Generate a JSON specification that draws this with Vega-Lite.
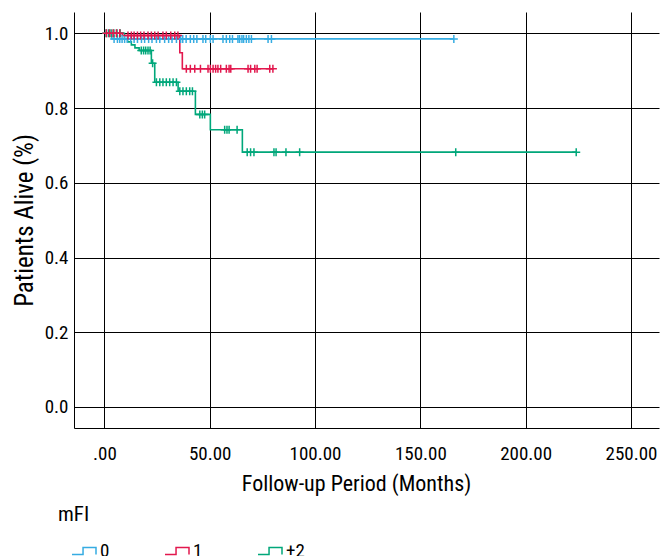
{
  "$schema": "https://vega.github.io/schema/vega-lite/v6.json",
  "width": 585,
  "height": 416,
  "autosize": {"type": "none"},
  "padding": {"left": 74, "top": 12, "right": 3, "bottom": 128},
  "background": "white",
  "config": {
    "font": "Roboto Condensed, DejaVu Sans Condensed, Roboto",
    "view": {"stroke": null},
    "axis": {
      "gridColor": "#000", "gridWidth": 1, "gridOpacity": 1,
      "domainColor": "#000", "domainWidth": 1,
      "ticks": false, "tickSize": 0,
      "labelFont": "Roboto Condensed, DejaVu Sans Condensed, Roboto", "labelFontSize": 19, "labelColor": "#000",
      "titleFont": "Roboto Condensed, DejaVu Sans Condensed, Roboto", "titleFontSize": 22, "titleFontWeight": "normal", "titleColor": "#000"
    },
    "legend": {
      "titleFont": "Roboto Condensed, DejaVu Sans Condensed, Roboto", "labelFont": "Roboto Condensed, DejaVu Sans Condensed, Roboto",
      "titleFontSize": 21, "titleFontWeight": "normal", "titleColor": "#000",
      "labelFontSize": 19, "labelColor": "#000"
    }
  },
  "data": {
    "values": [
      {"g": "0", "t": 0, "s": 1, "c": 0},
      {"g": "0", "t": 3.5, "s": 0.985, "c": 0},
      {"g": "0", "t": 4.6, "s": 0.985, "c": 1},
      {"g": "0", "t": 6.2, "s": 0.985, "c": 1},
      {"g": "0", "t": 7.3, "s": 0.985, "c": 1},
      {"g": "0", "t": 8.4, "s": 0.985, "c": 1},
      {"g": "0", "t": 9.6, "s": 0.985, "c": 1},
      {"g": "0", "t": 10.9, "s": 0.985, "c": 1},
      {"g": "0", "t": 12.5, "s": 0.985, "c": 1},
      {"g": "0", "t": 14.1, "s": 0.985, "c": 1},
      {"g": "0", "t": 15.7, "s": 0.985, "c": 1},
      {"g": "0", "t": 17.6, "s": 0.985, "c": 1},
      {"g": "0", "t": 19.1, "s": 0.985, "c": 1},
      {"g": "0", "t": 21.0, "s": 0.985, "c": 1},
      {"g": "0", "t": 22.6, "s": 0.985, "c": 1},
      {"g": "0", "t": 24.7, "s": 0.985, "c": 1},
      {"g": "0", "t": 26.3, "s": 0.985, "c": 1},
      {"g": "0", "t": 28.6, "s": 0.985, "c": 1},
      {"g": "0", "t": 30.5, "s": 0.985, "c": 1},
      {"g": "0", "t": 32.1, "s": 0.985, "c": 1},
      {"g": "0", "t": 34.2, "s": 0.985, "c": 1},
      {"g": "0", "t": 36.2, "s": 0.985, "c": 1},
      {"g": "0", "t": 37.2, "s": 0.985, "c": 1},
      {"g": "0", "t": 38.8, "s": 0.985, "c": 1},
      {"g": "0", "t": 40.8, "s": 0.985, "c": 1},
      {"g": "0", "t": 42.4, "s": 0.985, "c": 1},
      {"g": "0", "t": 43.9, "s": 0.985, "c": 1},
      {"g": "0", "t": 46.8, "s": 0.985, "c": 1},
      {"g": "0", "t": 48.1, "s": 0.985, "c": 1},
      {"g": "0", "t": 50.3, "s": 0.985, "c": 1},
      {"g": "0", "t": 51.6, "s": 0.985, "c": 1},
      {"g": "0", "t": 56.3, "s": 0.985, "c": 1},
      {"g": "0", "t": 57.9, "s": 0.985, "c": 1},
      {"g": "0", "t": 59.5, "s": 0.985, "c": 1},
      {"g": "0", "t": 60.8, "s": 0.985, "c": 1},
      {"g": "0", "t": 63.4, "s": 0.985, "c": 1},
      {"g": "0", "t": 64.2, "s": 0.985, "c": 1},
      {"g": "0", "t": 65.3, "s": 0.985, "c": 1},
      {"g": "0", "t": 66.1, "s": 0.985, "c": 1},
      {"g": "0", "t": 67.4, "s": 0.985, "c": 1},
      {"g": "0", "t": 68.6, "s": 0.985, "c": 1},
      {"g": "0", "t": 69.8, "s": 0.985, "c": 1},
      {"g": "0", "t": 77.7, "s": 0.985, "c": 1},
      {"g": "0", "t": 79.3, "s": 0.985, "c": 1},
      {"g": "0", "t": 165.9, "s": 0.985, "c": 1},
      {"g": "+2", "t": 0, "s": 1, "c": 0},
      {"g": "+2", "t": 0.8, "s": 1, "c": 1},
      {"g": "+2", "t": 2.0, "s": 1, "c": 1},
      {"g": "+2", "t": 3.2, "s": 1, "c": 1},
      {"g": "+2", "t": 4.5, "s": 1, "c": 1},
      {"g": "+2", "t": 6.0, "s": 1, "c": 1},
      {"g": "+2", "t": 7.5, "s": 1, "c": 1},
      {"g": "+2", "t": 9.5, "s": 0.985, "c": 0},
      {"g": "+2", "t": 11.0, "s": 0.977, "c": 0},
      {"g": "+2", "t": 12.8, "s": 0.969, "c": 0},
      {"g": "+2", "t": 14.5, "s": 0.961, "c": 0},
      {"g": "+2", "t": 16.5, "s": 0.954, "c": 0},
      {"g": "+2", "t": 17.5, "s": 0.954, "c": 1},
      {"g": "+2", "t": 18.6, "s": 0.954, "c": 1},
      {"g": "+2", "t": 19.6, "s": 0.954, "c": 1},
      {"g": "+2", "t": 20.7, "s": 0.954, "c": 1},
      {"g": "+2", "t": 21.7, "s": 0.954, "c": 1},
      {"g": "+2", "t": 22.3, "s": 0.92, "c": 0},
      {"g": "+2", "t": 22.9, "s": 0.92, "c": 1},
      {"g": "+2", "t": 23.9, "s": 0.869, "c": 0},
      {"g": "+2", "t": 24.7, "s": 0.869, "c": 1},
      {"g": "+2", "t": 26.3, "s": 0.869, "c": 1},
      {"g": "+2", "t": 27.8, "s": 0.869, "c": 1},
      {"g": "+2", "t": 29.4, "s": 0.869, "c": 1},
      {"g": "+2", "t": 31.0, "s": 0.869, "c": 1},
      {"g": "+2", "t": 32.6, "s": 0.869, "c": 1},
      {"g": "+2", "t": 34.2, "s": 0.869, "c": 1},
      {"g": "+2", "t": 35.0, "s": 0.845, "c": 0},
      {"g": "+2", "t": 35.8, "s": 0.845, "c": 1},
      {"g": "+2", "t": 37.3, "s": 0.845, "c": 1},
      {"g": "+2", "t": 38.9, "s": 0.845, "c": 1},
      {"g": "+2", "t": 40.5, "s": 0.845, "c": 1},
      {"g": "+2", "t": 41.8, "s": 0.845, "c": 1},
      {"g": "+2", "t": 43.2, "s": 0.783, "c": 0},
      {"g": "+2", "t": 45.3, "s": 0.783, "c": 1},
      {"g": "+2", "t": 46.5, "s": 0.783, "c": 1},
      {"g": "+2", "t": 47.6, "s": 0.783, "c": 1},
      {"g": "+2", "t": 50.3, "s": 0.742, "c": 0},
      {"g": "+2", "t": 57.1, "s": 0.742, "c": 1},
      {"g": "+2", "t": 58.2, "s": 0.742, "c": 1},
      {"g": "+2", "t": 59.2, "s": 0.742, "c": 1},
      {"g": "+2", "t": 63.0, "s": 0.742, "c": 1},
      {"g": "+2", "t": 65.5, "s": 0.682, "c": 0},
      {"g": "+2", "t": 67.8, "s": 0.682, "c": 1},
      {"g": "+2", "t": 69.4, "s": 0.682, "c": 1},
      {"g": "+2", "t": 71.0, "s": 0.682, "c": 1},
      {"g": "+2", "t": 80.5, "s": 0.682, "c": 1},
      {"g": "+2", "t": 81.5, "s": 0.682, "c": 1},
      {"g": "+2", "t": 86.2, "s": 0.682, "c": 1},
      {"g": "+2", "t": 92.7, "s": 0.682, "c": 1},
      {"g": "+2", "t": 166.8, "s": 0.682, "c": 1},
      {"g": "+2", "t": 224.0, "s": 0.682, "c": 1},
      {"g": "1", "t": 0, "s": 1, "c": 0},
      {"g": "1", "t": 1.0, "s": 1, "c": 1},
      {"g": "1", "t": 2.5, "s": 1, "c": 1},
      {"g": "1", "t": 4.1, "s": 1, "c": 1},
      {"g": "1", "t": 5.7, "s": 1, "c": 1},
      {"g": "1", "t": 7.3, "s": 1, "c": 1},
      {"g": "1", "t": 8.5, "s": 0.994, "c": 0},
      {"g": "1", "t": 11.2, "s": 0.994, "c": 1},
      {"g": "1", "t": 12.8, "s": 0.994, "c": 1},
      {"g": "1", "t": 14.1, "s": 0.994, "c": 1},
      {"g": "1", "t": 15.7, "s": 0.994, "c": 1},
      {"g": "1", "t": 17.2, "s": 0.994, "c": 1},
      {"g": "1", "t": 18.8, "s": 0.994, "c": 1},
      {"g": "1", "t": 20.7, "s": 0.994, "c": 1},
      {"g": "1", "t": 22.3, "s": 0.994, "c": 1},
      {"g": "1", "t": 23.9, "s": 0.994, "c": 1},
      {"g": "1", "t": 25.5, "s": 0.994, "c": 1},
      {"g": "1", "t": 27.8, "s": 0.994, "c": 1},
      {"g": "1", "t": 29.4, "s": 0.994, "c": 1},
      {"g": "1", "t": 31.5, "s": 0.994, "c": 1},
      {"g": "1", "t": 33.4, "s": 0.994, "c": 1},
      {"g": "1", "t": 34.9, "s": 0.994, "c": 1},
      {"g": "1", "t": 35.8, "s": 0.948, "c": 0},
      {"g": "1", "t": 37.0, "s": 0.905, "c": 0},
      {"g": "1", "t": 38.9, "s": 0.905, "c": 1},
      {"g": "1", "t": 40.8, "s": 0.905, "c": 1},
      {"g": "1", "t": 42.9, "s": 0.905, "c": 1},
      {"g": "1", "t": 45.6, "s": 0.905, "c": 1},
      {"g": "1", "t": 49.2, "s": 0.905, "c": 1},
      {"g": "1", "t": 50.3, "s": 0.905, "c": 1},
      {"g": "1", "t": 51.6, "s": 0.905, "c": 1},
      {"g": "1", "t": 52.8, "s": 0.905, "c": 1},
      {"g": "1", "t": 53.9, "s": 0.905, "c": 1},
      {"g": "1", "t": 55.2, "s": 0.905, "c": 1},
      {"g": "1", "t": 57.9, "s": 0.905, "c": 1},
      {"g": "1", "t": 59.2, "s": 0.905, "c": 1},
      {"g": "1", "t": 60.0, "s": 0.905, "c": 1},
      {"g": "1", "t": 68.2, "s": 0.905, "c": 1},
      {"g": "1", "t": 69.4, "s": 0.905, "c": 1},
      {"g": "1", "t": 71.4, "s": 0.905, "c": 1},
      {"g": "1", "t": 72.5, "s": 0.905, "c": 1},
      {"g": "1", "t": 78.5, "s": 0.905, "c": 1},
      {"g": "1", "t": 80.0, "s": 0.905, "c": 1}
    ]
  },
  "encoding": {
    "x": {
      "field": "t", "type": "quantitative",
      "scale": {"domain": [-14.43, 263.3], "nice": false, "zero": false},
      "axis": {
        "values": [0, 50, 100, 150, 200, 250],
        "labelExpr": "datum.value == 0 ? '.00' : format(datum.value, '.2f')",
        "labelPadding": 16, "title": "Follow-up Period (Months)",
        "titlePadding": 10, "titleX": 282, "titleAnchor": "middle", "labelFlush": false
      }
    },
    "y": {
      "field": "s", "type": "quantitative",
      "scale": {"domain": [-0.0562, 1.057], "nice": false, "zero": false},
      "axis": {
        "values": [0, 0.2, 0.4, 0.6, 0.8, 1.0],
        "format": ".1f", "labelPadding": 6,
        "title": "Patients Alive (%)", "titlePadding": 7, "titleFontSize": 25
      }
    },
    "color": {
      "field": "g", "type": "nominal",
      "scale": {"domain": ["0", "1", "+2"], "range": ["#36ACE2", "#E2184E", "#00A77A"]}
    }
  },
  "layer": [
    {
      "mark": {"type": "line", "interpolate": "step-after", "strokeWidth": 1.6},
      "encoding": {
        "color": {
          "field": "g", "type": "nominal",
          "scale": {"domain": ["0", "1", "+2"], "range": ["#36ACE2", "#E2184E", "#00A77A"]},
          "legend": {
            "title": "mFI", "orient": "none", "legendX": -16, "legendY": 492,
            "direction": "horizontal", "columns": 3,
            "symbolType": "M-1,0.29H-0.08V-0.29H1V0.29", "symbolSize": 576,
            "symbolStrokeWidth": 1.5, "symbolOffset": 13, "labelOffset": 3,
            "columnPadding": 41, "titlePadding": 13
          }
        }
      }
    },
    {
      "transform": [{"filter": "datum.c == 1"}],
      "mark": {"type": "point", "shape": "M-1,0H1M0,-1V1", "size": 64, "filled": false, "strokeWidth": 1.5, "opacity": 1},
      "encoding": {
        "color": {
          "field": "g", "type": "nominal",
          "scale": {"domain": ["0", "1", "+2"], "range": ["#36ACE2", "#E2184E", "#00A77A"]},
          "legend": null
        }
      }
    }
  ]
}
